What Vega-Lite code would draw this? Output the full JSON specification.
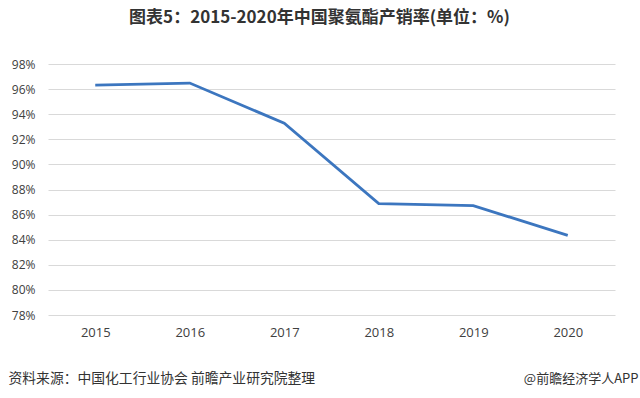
{
  "$schema": "https://vega.github.io/schema/vega-lite/v6.json",
  "autosize": "none",
  "width": 567,
  "height": 251,
  "padding": {"left": 48, "top": 64, "right": 25, "bottom": 83},
  "background": "white",
  "config": {
    "view": {"stroke": null},
    "font": "Noto Sans CJK SC"
  },
  "title": {
    "text": "图表5：2015-2020年中国聚氨酯产销率(单位：%)",
    "font": "Noto Sans CJK SC",
    "fontSize": 17,
    "fontWeight": "bold",
    "color": "#333333",
    "anchor": "middle",
    "dx": -12,
    "offset": 31
  },
  "data": {
    "values": [
      {"year": "2015", "rate": 96.32},
      {"year": "2016", "rate": 96.48},
      {"year": "2017", "rate": 93.28},
      {"year": "2018", "rate": 86.88},
      {"year": "2019", "rate": 86.72},
      {"year": "2020", "rate": 84.34}
    ]
  },
  "layer": [
    {
      "mark": {"type": "line", "color": "#3C76BF", "strokeWidth": 2.8},
      "encoding": {
        "x": {
          "field": "year",
          "type": "ordinal",
          "scale": {"type": "point", "padding": 0.5},
          "axis": {
            "labelAngle": 0,
            "ticks": false,
            "domain": false,
            "grid": false,
            "labelPadding": 11,
            "labelFontSize": 13,
            "labelColor": "#404040",
            "labelFont": "Open Sans",
            "title": "资料来源：中国化工行业协会 前瞻产业研究院整理",
            "titleFont": "Noto Sans CJK SC",
            "titleFontSize": 13.8,
            "titleFontWeight": "normal",
            "titleColor": "#333333",
            "titleAnchor": "start",
            "titleAlign": "left",
            "titleBaseline": "middle",
            "titleX": -40,
            "titleY": 63
          }
        },
        "y": {
          "field": "rate",
          "type": "quantitative",
          "scale": {"domain": [78, 98], "nice": false, "zero": false},
          "axis": {
            "values": [78, 80, 82, 84, 86, 88, 90, 92, 94, 96, 98],
            "labelExpr": "datum.value + '%'",
            "ticks": false,
            "domain": false,
            "gridColor": "#d9d9d9",
            "gridWidth": 1,
            "labelPadding": 13,
            "labelFontSize": 12,
            "labelColor": "#404040",
            "labelFont": "Open Sans",
            "title": null
          }
        }
      }
    },
    {
      "mark": {"type": "line", "opacity": 0},
      "encoding": {
        "x": {"field": "year", "type": "ordinal"},
        "y": {
          "field": "rate",
          "type": "quantitative",
          "axis": {
            "orient": "right",
            "labels": false,
            "ticks": false,
            "domain": false,
            "grid": false,
            "title": "@前瞻经济学人APP",
            "titleAngle": 0,
            "titleFont": "Noto Sans CJK SC",
            "titleFontSize": 13,
            "titleFontWeight": "normal",
            "titleColor": "#333333",
            "titleAlign": "right",
            "titleBaseline": "middle",
            "titleX": 23,
            "titleY": 314
          }
        }
      }
    }
  ],
  "resolve": {"axis": {"y": "independent"}}
}
